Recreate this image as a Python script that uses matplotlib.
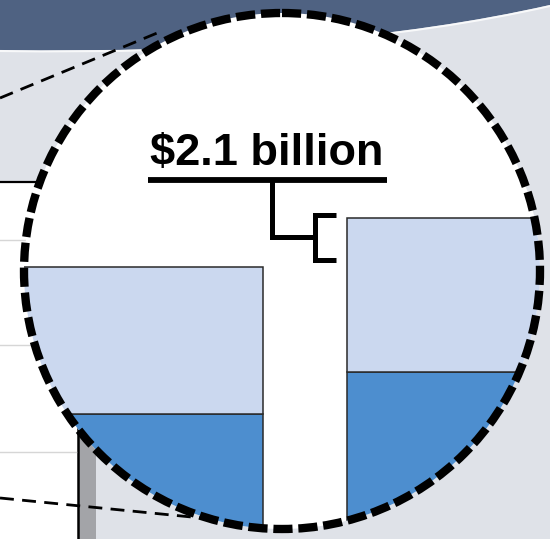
import numpy as np
import matplotlib
matplotlib.use("Agg")
from matplotlib import pyplot as plt
from matplotlib.patches import Circle, PathPatch, Rectangle
from matplotlib.path import Path

# zoomed bar segments (billions of dollars, baseline below the view)
bar_pos   = [0, 1]
dark_vals = [5.25, 7.0]
light_vals = [6.18, 6.5]
gap_label = "$2.1 billion"

W, H = 550, 539
fig = plt.figure(figsize=(W / 100, H / 100), dpi=100)

# background layer in pixel coordinates
ax = fig.add_axes([0, 0, 1, 1])
ax.set_xlim(0, W)
ax.set_ylim(H, 0)
ax.axis("off")
ax.add_patch(Rectangle((0, 0), W, H, facecolor="#dfe2e8", edgecolor="none", zorder=0))

# dark header band with curved bottom edge
verts = [(0, -5), (0, 50), (330, 55), (550, 5), (550, -5), (0, -5)]
codes = [Path.MOVETO, Path.LINETO, Path.CURVE3, Path.CURVE3, Path.LINETO, Path.CLOSEPOLY]
ax.add_patch(PathPatch(Path(verts, codes), facecolor="#4f6282", edgecolor="none", zorder=1))
edge = Path([(0, 51), (330, 56), (550, 6)], [Path.MOVETO, Path.CURVE3, Path.CURVE3])
ax.add_patch(PathPatch(edge, facecolor="none", edgecolor="white", lw=1.5, alpha=0.8, zorder=1))

# the main chart panel peeking out from behind the magnifier
ax.add_patch(Rectangle((-5, 182), 83, 400, facecolor="white", edgecolor="none", zorder=2))
ax.add_patch(Rectangle((78, 182), 18, 400, facecolor="#a3a4a8", edgecolor="none", zorder=2))
ax.plot([0, 78], [182, 182], color="black", lw=1.6, zorder=3)
ax.plot([78, 78], [182, 560], color="black", lw=1.8, zorder=3)
for gy in [240, 345, 452]:
    ax.plot([0, 76], [gy, gy], color="#d6d6d6", lw=1.0, zorder=3)

# connector lines to the zoom circle
ax.plot([0, 162], [98, 31], color="black", lw=2.0, ls=(0, (5, 3)), zorder=4)
ax.plot([0, 262], [498, 524], color="black", lw=2.0, ls=(0, (5, 3)), zorder=4)

cx, cy, r = 282, 271, 258
circ = Circle((cx, cy), r, facecolor="white", edgecolor="none", zorder=5)
ax.add_patch(circ)

# bars inside the magnifier
px = 334.0   # pixels per category step
py = 23.8    # pixels per billion
x0 = 138.0
axb = fig.add_axes([0, 0, 1, 1], zorder=1)
axb.patch.set_alpha(0)
axb.set_xlim((0 - x0) / px, (W - x0) / px)
axb.set_ylim(0, H / py)
axb.axis("off")
w = 250 / px
b1 = axb.bar(bar_pos, dark_vals, width=w, color="#4d8ecf", edgecolor="#2a2a2a", lw=1.1)
b2 = axb.bar(bar_pos, light_vals, width=w, bottom=dark_vals, color="#cbd8ef",
             edgecolor="#2a2a2a", lw=1.1)
for b in list(b1) + list(b2):
    b.set_clip_path(circ)

# top layer: dashed ring, bracket and label
axt = fig.add_axes([0, 0, 1, 1], zorder=2)
axt.patch.set_alpha(0)
axt.set_xlim(0, W)
axt.set_ylim(H, 0)
axt.axis("off")
ring = Circle((cx, cy), r, fill=False, edgecolor="black", lw=6.0, ls=(0, (2.3, 0.7)))
ring.set_capstyle("butt")
axt.add_patch(ring)

axt.text(267, 165, gap_label, ha="center", va="baseline", fontsize=32.5,
         fontweight="bold", family=["Liberation Sans", "DejaVu Sans"])
axt.plot([148, 387], [180, 180], color="black", lw=4.2, solid_capstyle="butt")
axt.plot([272, 272, 315], [180, 237, 237], color="black", lw=3.6,
         solid_capstyle="butt", solid_joinstyle="miter")
axt.plot([336, 315, 315, 336], [215, 215, 260, 260], color="black", lw=3.6,
         solid_capstyle="butt", solid_joinstyle="miter")

fig.savefig("out.png", dpi=100)
